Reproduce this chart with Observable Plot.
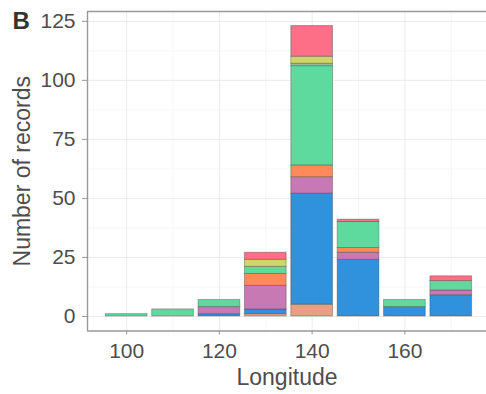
<!DOCTYPE html>
<html>
<head>
<meta charset="utf-8">
<script src="https://cdn.jsdelivr.net/npm/d3@7"></script>
<script src="https://cdn.jsdelivr.net/npm/@observablehq/plot@0.6"></script>
<style>
  html, body { margin: 0; padding: 0; background: #fff; }
  #chart { width: 486px; height: 394px; overflow: hidden; }
  svg { font-family: "Liberation Sans", Arial, sans-serif; }
</style>
</head>
<body>
<div id="chart"></div>
<script>
// Longitude bins (centres, 10-degree bins)
const longitudes = [100, 110, 120, 130, 140, 150, 160, 170];
// Stack order, bottom to top
const groups = ["Group 1", "Group 2", "Group 3", "Group 4", "Group 5", "Group 6", "Group 7", "Group 8"];
const groupColors = ["#E8A083", "#3091DC", "#C779B4", "#FE8A5C", "#5FDA9E", "#9DB59A", "#CDD56B", "#FD6E87"];
// Counts per group, aligned with longitudes
const group1 = [0, 0, 0, 1, 5, 0, 0, 0];
const group2 = [0, 0, 1, 2, 47, 24, 4, 9];
const group3 = [0, 0, 3, 10, 7, 3, 0, 2];
const group4 = [0, 0, 0, 5, 5, 2, 0, 0];
const group5 = [1, 3, 3, 3, 42, 11, 3, 4];
const group6 = [0, 0, 0, 0, 1, 0, 0, 0];
const group7 = [0, 0, 0, 3, 3, 0, 0, 0];
const group8 = [0, 0, 0, 3, 13, 1, 0, 2];
const yTicks = [0, 25, 50, 75, 100, 125];
const xTicks = [100, 120, 140, 160];
const yMinor = [12.5, 37.5, 62.5, 87.5, 112.5];
const xMinor = [110, 130, 150, 170];

const series = [group1, group2, group3, group4, group5, group6, group7, group8];
const rows = [];
groups.forEach((g, gi) => {
  longitudes.forEach((lon, li) => {
    const n = series[gi][li];
    if (n > 0) rows.push({lon, group: g, count: n});
  });
});

const halfWidth = 4.5;
const xDomain = [91.55, 177.6];
const yDomain = [-6.15, 129.15];

const textColor = "#4d4d4d";
const chart = Plot.plot({
  width: 486,
  height: 394,
  marginLeft: 87,
  marginRight: 0,
  marginTop: 11,
  marginBottom: 63.5,
  style: {fontFamily: "'Liberation Sans', Arial, sans-serif", background: "#fff"},
  x: {domain: xDomain, axis: null},
  y: {domain: yDomain, axis: null},
  color: {domain: groups, range: groupColors},
  marks: [
    Plot.ruleY(yMinor, {stroke: "#f4f4f4", strokeWidth: 0.8}),
    Plot.ruleX(xMinor, {stroke: "#f4f4f4", strokeWidth: 0.8}),
    Plot.ruleY(yTicks, {stroke: "#ebebeb", strokeWidth: 1}),
    Plot.ruleX(xTicks, {stroke: "#ebebeb", strokeWidth: 1}),
    Plot.rectY(rows, {
      x1: d => d.lon - halfWidth,
      x2: d => d.lon + halfWidth,
      y: "count",
      fill: "group",
      stroke: "#333",
      strokeOpacity: 0.35,
      strokeWidth: 1
    }),
    // panel border (left, top, bottom)
    Plot.ruleX([xDomain[0]], {stroke: "#999", strokeWidth: 1.4}),
    Plot.ruleY(yDomain, {stroke: "#999", strokeWidth: 1.4}),
    Plot.axisY({ticks: yTicks, tickSize: 5, tickPadding: 7, fontSize: 21, color: textColor, stroke: "#999", label: null}),
    Plot.axisX({ticks: xTicks, tickSize: 4, tickPadding: 8, fontSize: 21, color: textColor, stroke: "#999", label: null}),
    Plot.text(["Longitude"], {frameAnchor: "bottom", dy: 54, fontSize: 23, fill: textColor}),
    Plot.text(["Number of records"], {frameAnchor: "left", dx: -65, rotate: -90, textAnchor: "middle", fontSize: 23, fill: textColor}),
    Plot.text(["B"], {frameAnchor: "top-left", dx: -75, dy: 0, lineAnchor: "top", fontSize: 24, fontWeight: "bold", fill: "#333", textAnchor: "start"})
  ]
});
document.getElementById("chart").appendChild(chart);
</script>
</body>
</html>
